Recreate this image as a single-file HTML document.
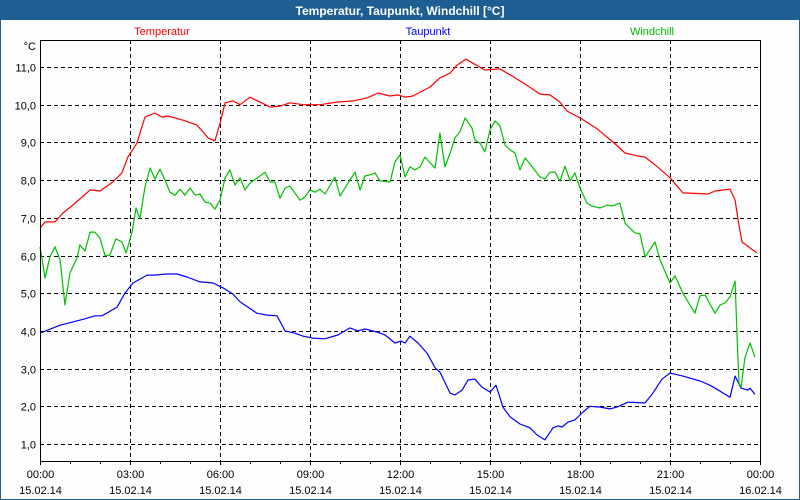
<!DOCTYPE html>
<html><head><meta charset="utf-8"><style>
body{margin:0;width:800px;height:500px;overflow:hidden;font-family:"Liberation Sans",sans-serif;}
svg{display:block}
</style></head><body>
<svg id="chart" width="800" height="500" xmlns="http://www.w3.org/2000/svg">
<rect x="0" y="0" width="800" height="500" fill="#1e5e93"/>
<rect x="1" y="20" width="798" height="479" fill="#fdfdfd"/>
<text x="400" y="15" text-anchor="middle" font-size="12" font-weight="bold" fill="#fff">Temperatur, Taupunkt, Windchill [°C]</text>
<text x="162" y="35" text-anchor="middle" font-size="11" fill="#ff0000">Temperatur</text>
<text x="428" y="35" text-anchor="middle" font-size="11" fill="#0000ff">Taupunkt</text>
<text x="652" y="35" text-anchor="middle" font-size="11" fill="#00bb00">Windchill</text>
<text x="36" y="50" text-anchor="end" font-size="11" fill="#000">°C</text>
<g id="grid"></g>
<g id="series"></g>
<rect x="40.5" y="40.5" width="720" height="421" fill="none" stroke="#000" stroke-width="1"/>
<g id="axes"></g>
</svg>
<script>
const yTicks=[1,2,3,4,5,6,7,8,9,10,11];
const xTickHours=[0,3,6,9,12,15,18,21,24];
const xTickTimes=["00:00","03:00","06:00","09:00","12:00","15:00","18:00","21:00","00:00"];
const xTickDates=["15.02.14","15.02.14","15.02.14","15.02.14","15.02.14","15.02.14","15.02.14","15.02.14","16.02.14"];
const tempHours=[0,0.17,0.5,0.77,1.1,1.67,2,2.43,2.73,2.93,3.23,3.5,3.83,4.07,4.27,4.77,5.23,5.43,5.6,5.83,6,6.17,6.43,6.67,7,7.33,7.67,8,8.33,8.77,9.33,9.9,10.43,10.9,11.27,11.67,11.93,12.17,12.43,13,13.33,13.67,13.9,14.2,14.43,14.83,15.33,15.67,16.1,16.67,17,17.33,17.57,18,18.57,19.1,19.5,19.93,20.17,20.43,20.67,21,21.43,22.27,22.5,23,23.17,23.27,23.4,23.67,23.9];
const tempValues=[6.73,6.89,6.89,7.13,7.34,7.74,7.71,7.95,8.19,8.61,8.98,9.67,9.78,9.67,9.70,9.59,9.46,9.28,9.12,9.04,9.51,10.05,10.10,10.0,10.2,10.07,9.94,9.96,10.05,10.0,10.0,10.07,10.1,10.18,10.31,10.23,10.26,10.2,10.23,10.47,10.71,10.84,11.05,11.21,11.1,10.92,10.95,10.79,10.58,10.28,10.26,10.07,9.83,9.65,9.36,9.01,8.72,8.64,8.61,8.45,8.29,8.06,7.66,7.63,7.71,7.76,7.47,6.94,6.36,6.2,6.07];
const windHours=[0,0.17,0.33,0.5,0.67,0.83,1,1.23,1.33,1.5,1.67,1.83,2,2.17,2.33,2.53,2.73,2.87,3.07,3.2,3.33,3.5,3.67,3.83,4,4.17,4.33,4.5,4.67,4.83,5,5.17,5.33,5.5,5.67,5.83,6,6.17,6.33,6.5,6.67,6.83,7,7.33,7.5,7.67,7.83,8,8.17,8.33,8.67,8.83,9,9.17,9.33,9.5,9.83,10,10.5,10.67,10.83,11,11.17,11.33,11.67,11.83,12,12.17,12.33,12.5,12.67,12.83,13.17,13.33,13.5,13.67,13.83,14,14.17,14.4,14.5,14.67,14.83,15,15.17,15.33,15.5,15.67,15.83,16,16.17,16.33,16.67,16.83,17,17.17,17.33,17.5,17.67,17.83,18,18.23,18.4,18.67,18.9,19.07,19.33,19.5,19.83,20,20.17,20.5,20.67,21,21.17,21.43,21.83,22,22.17,22.5,22.67,22.83,23,23.17,23.23,23.3,23.37,23.5,23.67,23.83];
const windValues=[6.23,5.40,5.96,6.23,5.88,4.69,5.54,5.93,6.28,6.12,6.62,6.62,6.46,5.99,6.01,6.44,6.36,6.07,6.62,7.26,6.97,7.82,8.32,8.03,8.29,8.0,7.68,7.6,7.76,7.6,7.79,7.6,7.63,7.42,7.39,7.23,7.47,8.06,8.27,7.87,8.06,7.74,7.92,8.11,8.21,7.95,7.95,7.52,7.79,7.84,7.47,7.55,7.74,7.68,7.76,7.63,8.08,7.58,8.21,7.74,8.11,8.14,8.19,7.98,7.95,8.48,8.67,8.08,8.35,8.27,8.35,8.61,8.32,9.25,8.35,8.72,9.12,9.28,9.65,9.38,9.06,8.98,8.75,9.33,9.57,9.44,8.93,8.80,8.72,8.27,8.59,8.43,8.08,8.03,8.21,8.21,7.98,8.37,7.98,8.19,7.79,7.39,7.31,7.26,7.34,7.31,7.39,6.86,6.6,6.57,5.96,6.36,5.88,5.27,5.46,5.0,4.47,4.93,4.95,4.47,4.69,4.74,4.9,5.32,3.97,2.61,2.51,3.3,3.68,3.3];
const dewHours=[0,0.67,1.5,1.83,2.07,2.57,2.83,3.1,3.57,3.83,4.23,4.57,4.9,5.33,5.77,6.1,6.43,6.67,6.93,7.23,7.57,7.9,8.17,8.5,8.77,9.1,9.5,9.93,10.33,10.6,10.83,11.23,11.5,11.83,12.03,12.17,12.33,12.6,12.9,13.17,13.33,13.67,13.83,14.07,14.27,14.5,14.73,15,15.2,15.43,15.67,16,16.33,16.57,16.83,17.1,17.27,17.4,17.6,17.83,18.1,18.33,18.67,19,19.23,19.6,20.17,20.43,20.73,21,21.43,22,22.33,22.67,23,23.17,23.37,23.6,23.67,23.83];
const dewValues=[3.94,4.15,4.32,4.4,4.4,4.63,5.0,5.27,5.48,5.48,5.51,5.51,5.43,5.3,5.27,5.14,4.98,4.77,4.63,4.47,4.42,4.4,4.0,3.94,3.86,3.81,3.79,3.89,4.08,4.0,4.05,3.97,3.89,3.68,3.73,3.68,3.86,3.68,3.41,3.02,2.91,2.35,2.3,2.43,2.7,2.72,2.51,2.38,2.56,1.98,1.72,1.53,1.43,1.24,1.11,1.43,1.48,1.45,1.58,1.64,1.85,2.0,1.98,1.93,1.98,2.11,2.09,2.35,2.72,2.88,2.8,2.67,2.56,2.4,2.24,2.8,2.48,2.43,2.48,2.32];

const NS="http://www.w3.org/2000/svg";
const X0=40,X1=760,Y0=461,YTOP=40;
function xs(h){return X0+h*(X1-X0)/24;}
function ys(v){return 67+(11-v)*37.7;}
function mk(tag,attrs,parent){const e=document.createElementNS(NS,tag);for(const k in attrs)e.setAttribute(k,attrs[k]);parent.appendChild(e);return e;}
const grid=document.getElementById('grid'),axes=document.getElementById('axes'),series=document.getElementById('series');
yTicks.forEach(v=>{
  const y=Math.round(ys(v))+0.5;
  const l=mk('line',{x1:X0,x2:X1,y1:y,y2:y,stroke:'#000','stroke-dasharray':'4,3'},grid);
  
  
  const t=mk('text',{x:36,y:y+4,'text-anchor':'end','font-size':11,fill:'#000'},axes);
  t.textContent=v.toFixed(1).replace('.',',');
  
  
});
for(let h=0;h<=24;h++){
  const x=Math.round(xs(h))+0.5;
  const tk=mk('line',{x1:x,x2:x,y1:Y0,y2:Y0+(h%3==0?4:3),stroke:'#000'},axes);
  
  
}
xTickHours.forEach((h,i)=>{
  const x=Math.round(xs(h))+0.5;
  if(h>0&&h<24){
    const l=mk('line',{x1:x,x2:x,y1:YTOP,y2:Y0,stroke:'#000','stroke-dasharray':'4,3'},grid);
    
    
  }
  const t=mk('text',{x:x,y:478,'text-anchor':'middle','font-size':11,fill:'#000'},axes);
  t.textContent=xTickTimes[i];
  
  
  const d=mk('text',{x:x,y:494,'text-anchor':'middle','font-size':11,fill:'#000'},axes);
  d.textContent=xTickDates[i];
  
  
});
function line(hs,vs,color,name){
  const pts=hs.map((h,i)=>xs(h).toFixed(1)+','+ys(vs[i]).toFixed(1)).join(' ');
  const p=mk('polyline',{points:pts,fill:'none',stroke:color,'stroke-width':1.2,'stroke-linejoin':'round'},series);
  
  
}
line(dewHours,dewValues,'#0000ff','taupunkt-line');
line(windHours,windValues,'#00c000','windchill-line');
line(tempHours,tempValues,'#ff0000','temperatur-line');
</script>
</body></html>
